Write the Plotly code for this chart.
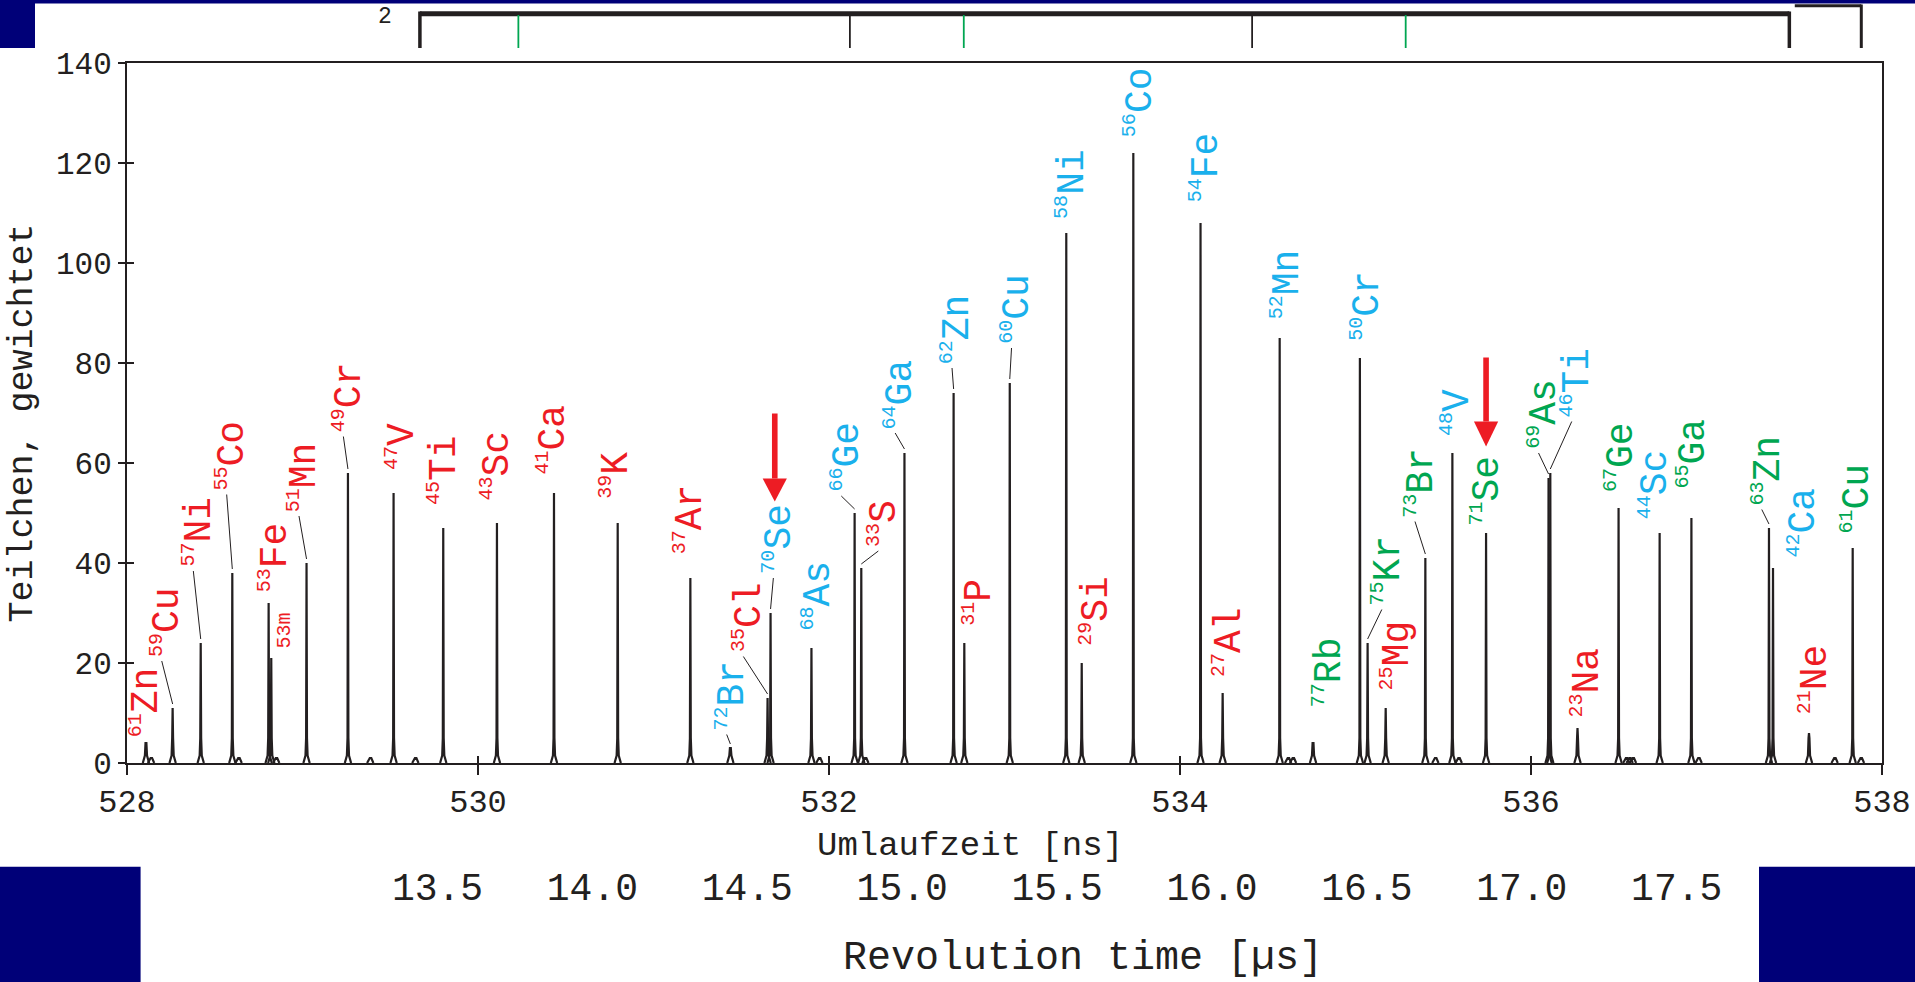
import plotly.graph_objects as go

# ---------------- data ----------------
peak_time = [528.108, 528.26, 528.42, 528.60, 528.807, 528.822, 529.023, 529.259, 529.519, 529.802,
             530.108, 530.433, 530.796, 531.21, 531.438, 531.65, 531.667, 531.90, 532.146, 532.184,
             532.43, 532.71, 532.771, 533.03, 533.352, 533.44, 533.734, 534.117, 534.243, 534.568,
             534.758, 535.025, 535.069, 535.172, 535.398, 535.552, 535.744, 536.10, 536.11, 536.265,
             536.499, 536.733, 536.914, 537.356, 537.379, 537.584, 537.833]
peak_height = [4, 11, 24, 38, 32, 21, 40, 58, 54, 47,
               48, 54, 48, 37, 3, 13, 30, 23, 50, 39,
               62, 74, 24, 76, 106, 20, 122, 108, 14, 85,
               4, 81, 24, 11, 41, 62, 46, 57, 58, 7,
               51, 46, 49, 47, 39, 6, 43]
mass_number = ["61", "59", "57", "55", "53", "53m", "51", "49", "47", "45",
               "43", "41", "39", "37", "72", "35", "70", "68", "66", "33",
               "64", "62", "31", "60", "58", "29", "56", "54", "27", "52",
               "77", "50", "75", "25", "73", "48", "71", "69", "46", "23",
               "67", "44", "65", "63", "42", "21", "61"]
element = ["Zn", "Cu", "Ni", "Co", "Fe", "", "Mn", "Cr", "V", "Ti",
           "Sc", "Ca", "K", "Ar", "Br", "Cl", "Se", "As", "Ge", "S",
           "Ga", "Zn", "P", "Cu", "Ni", "Si", "Co", "Fe", "Al", "Mn",
           "Rb", "Cr", "Kr", "Mg", "Br", "V", "Se", "As", "Ti", "Na",
           "Ge", "Sc", "Ga", "Zn", "Ca", "Ne", "Cu"]
group = ["r", "r", "r", "r", "r", "r", "r", "r", "r", "r",
         "r", "r", "r", "r", "b", "r", "b", "b", "b", "r",
         "b", "b", "r", "b", "b", "r", "b", "b", "r", "b",
         "g", "b", "g", "r", "g", "b", "g", "g", "b", "r",
         "g", "b", "g", "g", "b", "r", "g"]

# small unlabeled background bumps
bump_time = [528.137, 528.636, 528.85, 529.386, 529.643, 531.945, 532.207, 534.616, 534.644,
             535.455, 535.588, 536.543, 536.562, 536.581, 536.955, 537.73, 537.88]
bump_height = [1, 1, 1, 1, 1, 1, 1, 1, 1, 1, 1, 1, 1, 1, 1, 1, 1]

x_ticks = [528, 530, 532, 534, 536, 538]
y_ticks = [0, 20, 40, 60, 80, 100, 120, 140]
us_ticks = [13.5, 14.0, 14.5, 15.0, 15.5, 16.0, 16.5, 17.0, 17.5]
us_ticktext = ["13.5", "14.0", "14.5", "15.0", "15.5", "16.0", "16.5", "17.0", "17.5"]

# ---------------- label layout (positions only) ----------------
label_x = [528.11, 528.228, 528.408, 528.598, 528.845, 528.892, 529.01, 529.263, 529.567, 529.804,
           530.108, 530.43, 530.782, 531.21, 531.447, 531.542, 531.713, 531.932, 532.10, 532.311,
           532.407, 532.731, 532.853, 533.07, 533.384, 533.517, 533.77, 534.147, 534.277, 534.611,
           534.847, 535.061, 535.18, 535.236, 535.369, 535.578, 535.749, 536.073, 536.262, 536.319,
           536.51, 536.708, 536.926, 537.345, 537.55, 537.62, 537.855]
label_y = [5, 21, 39, 54.3, 34, 22.6, 50, 65.9, 58.3, 51.3,
           52.3, 57.6, 52.6, 41.6, 6.3, 21.9, 37.6, 26.3, 54, 43,
           66.6, 79.6, 27.3, 83.6, 108.6, 23.3, 124.9, 111.9, 16.9, 88.6,
           10.9, 84.3, 31.3, 14.3, 48.9, 65.3, 47.3, 62.6, 68.9, 8.9,
           53.9, 48.6, 54.6, 51.3, 40.9, 9.6, 45.6]
leader = [0, 1, 1, 1, 0, 0, 1, 1, 0, 0,
          0, 0, 0, 0, 1, 1, 1, 0, 1, 1,
          1, 1, 0, 1, 0, 0, 0, 0, 0, 0,
          0, 0, 1, 0, 1, 0, 0, 1, 1, 0,
          0, 0, 0, 1, 0, 0, 0]
# red arrows: x centre, shaft top, head base, tip
arrows = [(531.691, 69.9, 56.9, 52.3), (535.744, 81.1, 68.3, 63.3)]

COLORS = {"r": "#ed1c24", "b": "#1ab0ec", "g": "#00a651"}
INK = "#231f20"
NAVY = "#000078"
FONT = "Liberation Mono"

W, H = 1915, 982
ML, MR, MT, MB = 127, 33, 63, 121
PW, PH = W - ML - MR, H - MT - MB
Y_BOTTOM_PX = 763  # pixel row of y=0
y_domain_low = (H - MB - Y_BOTTOM_PX) / PH


def px(xp):
    return (xp - ML) / PW


def py(yp):
    return (H - MB - yp) / PH


# ---------------- peaks trace ----------------
xs, ys = [], []
for t, h in list(zip(peak_time, peak_height)) + list(zip(bump_time, bump_height)):
    f1, f2 = min(h, 1.5), min(h, 5)
    for dx, yy in [(-0.018, 0), (-0.006, f1), (-0.0025, f2), (0, h), (0.0025, f2), (0.006, f1), (0.018, 0)]:
        xs.append(t + dx)
        ys.append(yy)
    xs.append(None)
    ys.append(None)

fig = go.Figure()
fig.add_trace(go.Scatter(x=xs, y=ys, mode="lines", line=dict(color=INK, width=2.2),
                         hoverinfo="skip", showlegend=False))
# dummy traces for overlay axes (inside ticks) and the µs scale
fig.add_trace(go.Scatter(x=[530], y=[0], xaxis="x2", yaxis="y2", mode="markers",
                         marker=dict(opacity=0), hoverinfo="skip", showlegend=False))
fig.add_trace(go.Scatter(x=[15], y=[0], xaxis="x3", yaxis="y3", mode="markers",
                         marker=dict(opacity=0), hoverinfo="skip", showlegend=False))

# ---------------- labels ----------------
annotations = []
shapes = []
for i in range(len(peak_time)):
    col = COLORS[group[i]]
    if element[i]:
        txt = "<sup><span style='font-size:20px'>%s</span></sup>%s" % (mass_number[i], element[i])
        size = 38
    else:
        txt = mass_number[i]
        size = 20
    annotations.append(dict(x=label_x[i], y=label_y[i], xref="x", yref="y", text=txt,
                            textangle=-90, showarrow=False, xanchor="center", yanchor="bottom",
                            font=dict(family=FONT, size=size, color=col), borderpad=0))
    if leader[i]:
        shapes.append(dict(type="line", xref="x", yref="y",
                           x0=peak_time[i], y0=peak_height[i] + 0.8,
                           x1=label_x[i] - 0.03, y1=label_y[i] - 0.6,
                           line=dict(color=INK, width=1)))

for (xc, top, base, tip) in arrows:
    shapes.append(dict(type="rect", xref="x", yref="y", x0=xc - 0.016, x1=xc + 0.016,
                       y0=base, y1=top, fillcolor="#ed1c24", line=dict(width=0)))
    shapes.append(dict(type="path", xref="x", yref="y",
                       path="M %f,%f L %f,%f L %f,%f Z" % (xc - 0.069, base, xc + 0.069, base, xc, tip),
                       fillcolor="#ed1c24", line=dict(width=0)))

# ---------------- top bracket scale ----------------
br_left, br_right = 529.669, 537.472
black_ticks = [532.119, 534.411]
green_ticks = [530.23, 532.768, 535.286]
shapes.append(dict(type="line", xref="x", yref="paper", x0=br_left, x1=br_right, y0=py(13.8), y1=py(13.8),
                   line=dict(color=INK, width=5)))
for xb in [br_left, br_right]:
    shapes.append(dict(type="line", xref="x", yref="paper", x0=xb, x1=xb, y0=py(11.5), y1=py(48),
                       line=dict(color=INK, width=3.5)))
for xb in black_ticks:
    shapes.append(dict(type="line", xref="x", yref="paper", x0=xb, x1=xb, y0=py(15), y1=py(48),
                       line=dict(color=INK, width=1.8)))
for xb in green_ticks:
    shapes.append(dict(type="line", xref="x", yref="paper", x0=xb, x1=xb, y0=py(15), y1=py(48),
                       line=dict(color="#00a651", width=1.8)))
shapes.append(dict(type="line", xref="x", yref="paper", x0=537.503, x1=537.882, y0=py(5.7), y1=py(5.7),
                   line=dict(color=INK, width=3)))
shapes.append(dict(type="line", xref="x", yref="paper", x0=537.882, x1=537.882, y0=py(4.5), y1=py(48),
                   line=dict(color=INK, width=3)))
annotations.append(dict(x=529.472, y=py(17), xref="x", yref="paper", text="2", showarrow=False,
                        font=dict(family=FONT, size=23, color=INK), xanchor="center", yanchor="middle"))

# ---------------- navy decoration blocks ----------------
for (x0, y0, x1, y1) in [(0, 0, 1915, 3.5), (0, 0, 35, 48), (0, 866.7, 140.6, 982), (1759, 866.7, 1915, 982)]:
    shapes.append(dict(type="rect", xref="paper", yref="paper", x0=px(x0), x1=px(x1), y0=py(y0), y1=py(y1),
                       fillcolor=NAVY, line=dict(width=0), layer="below"))

# ---------------- titles ----------------
annotations.append(dict(x=px(23), y=py(423.5), xref="paper", yref="paper", text="Teilchen, gewichtet",
                        textangle=-90, showarrow=False, xanchor="center", yanchor="middle",
                        font=dict(family=FONT, size=35, color=INK)))
annotations.append(dict(x=px(970), y=py(846), xref="paper", yref="paper", text="Umlaufzeit [ns]",
                        showarrow=False, xanchor="center", yanchor="middle",
                        font=dict(family=FONT, size=34, color=INK)))
annotations.append(dict(x=px(1083), y=py(958), xref="paper", yref="paper", text="Revolution time [µs]",
                        showarrow=False, xanchor="center", yanchor="middle",
                        font=dict(family=FONT, size=40, color=INK)))

us_left = 13.5 - (437.5 - ML) / 309.8
us_right = 13.5 + (1882 - 437.5) / 309.8

fig.update_layout(
    width=W, height=H, margin=dict(l=ML, r=MR, t=MT, b=MB, autoexpand=False),
    paper_bgcolor="white", plot_bgcolor="white", showlegend=False,
    font=dict(family=FONT, color=INK),
    xaxis=dict(range=[528, 538], domain=[0, 1], anchor="y", tickvals=x_ticks, ticks="outside", ticklen=10,
               tickwidth=1.5, tickcolor=INK, showline=True, linewidth=2, linecolor=INK, mirror=True,
               showgrid=False, zeroline=False, tickfont=dict(family=FONT, size=32, color=INK),
               ticklabelstandoff=-1),
    yaxis=dict(range=[0, 140], domain=[y_domain_low, 1], anchor="x", tickvals=y_ticks, ticks="outside",
               ticklen=7, tickwidth=1.5, tickcolor=INK, showline=True, linewidth=2, linecolor=INK,
               mirror=True, showgrid=False, zeroline=False, tickfont=dict(family=FONT, size=31, color=INK)),
    xaxis2=dict(range=[528, 538], overlaying="x", anchor="y2", side="bottom", tickvals=x_ticks,
                ticks="inside", ticklen=7, tickwidth=1.5, tickcolor=INK, showticklabels=False,
                showline=False, showgrid=False, zeroline=False),
    yaxis2=dict(range=[0, 140], overlaying="y", anchor="x2", side="left", tickvals=y_ticks,
                ticks="inside", ticklen=7, tickwidth=1.5, tickcolor=INK, showticklabels=False,
                showline=False, showgrid=False, zeroline=False),
    xaxis3=dict(range=[us_left, us_right], domain=[0, 1], anchor="y3", tickvals=us_ticks,
                ticktext=us_ticktext, ticks="", showline=False, showgrid=False, zeroline=False,
                tickfont=dict(family=FONT, size=38, color=INK)),
    yaxis3=dict(range=[0, 1], domain=[0, 0.02], anchor="x3", visible=False),
    annotations=annotations, shapes=shapes,
)

fig.write_html("out.html", config={"displayModeBar": False},
               post_script="document.body.style.margin='0px';document.body.style.overflow='hidden';")
